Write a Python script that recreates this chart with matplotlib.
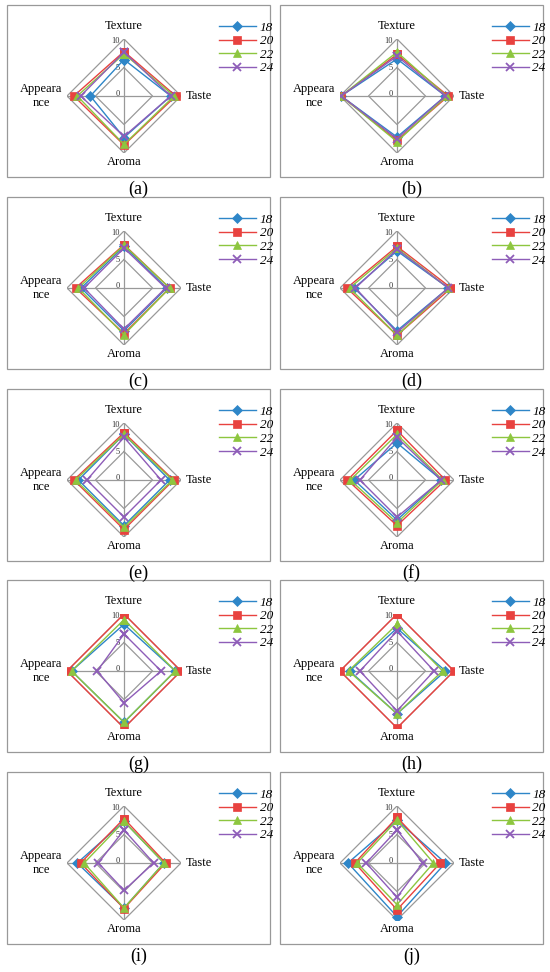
import numpy as np
import matplotlib
matplotlib.use("Agg")
import matplotlib.pyplot as plt
from matplotlib.patches import Rectangle

plt.rcParams['font.family'] = ['Liberation Serif', 'DejaVu Serif']

axes_names = ["Texture", "Taste", "Aroma", "Appeara\nnce"]
series_names = ["18", "20", "22", "24"]
colors = ["#2E86C8", "#E8423F", "#8DC63F", "#8E5DB8"]
markers = ["D", "s", "^", "x"]
panel_labels = ["(a)", "(b)", "(c)", "(d)", "(e)", "(f)", "(g)", "(h)", "(i)", "(j)"]

# values per panel: series 18,20,22,24 ; axes Texture, Taste, Aroma, Appearance
data_a = [[6.4, 8.2, 7.3, 5.9], [7.8, 9.1, 8.6, 8.8], [7.4, 8.8, 8.5, 8.2], [7.7, 8.2, 7.1, 7.6]]
data_b = [[6.5, 8.5, 7.2, 9.8], [7.3, 9.0, 7.8, 9.8], [7.7, 8.7, 8.0, 9.8], [7.0, 8.5, 7.5, 9.8]]
data_c = [[7.3, 7.5, 7.5, 7.5], [7.6, 8.0, 8.0, 8.5], [7.5, 8.0, 8.2, 8.0], [7.0, 7.3, 7.2, 7.0]]
data_d = [[6.5, 9.0, 7.5, 7.5], [7.3, 9.5, 8.3, 8.8], [7.0, 9.0, 8.3, 8.3], [6.8, 9.0, 7.8, 7.3]]
data_e = [[8.0, 8.0, 8.0, 8.0], [8.3, 8.7, 8.7, 8.8], [8.0, 8.5, 8.3, 8.5], [7.5, 6.5, 6.5, 6.5]]
data_f = [[6.5, 7.8, 7.0, 7.5], [8.7, 8.5, 8.0, 8.7], [8.0, 8.0, 7.5, 8.2], [7.5, 7.8, 6.5, 6.5]]
data_g = [[8.2, 9.0, 9.0, 9.2], [10.0, 10.0, 10.0, 10.0], [9.0, 9.0, 9.0, 9.2], [6.5, 6.5, 5.6, 4.7]]
data_h = [[7.5, 8.5, 7.5, 8.3], [10.0, 10.0, 10.0, 10.0], [8.2, 8.0, 7.5, 8.5], [7.0, 6.5, 7.0, 6.5]]
data_i = [[7.3, 7.0, 7.9, 8.2], [7.8, 7.3, 8.0, 7.6], [7.3, 7.0, 7.9, 7.0], [5.8, 5.2, 4.8, 4.5]]
data_j = [[7.5, 8.5, 9.4, 8.6], [8.0, 7.6, 8.2, 7.4], [7.5, 6.4, 7.3, 7.0], [5.8, 4.5, 6.0, 5.4]]
panels = [data_a, data_b, data_c, data_d, data_e, data_f, data_g, data_h, data_i, data_j]

W, H = 5.5, 9.72
fig = plt.figure(figsize=(W, H), dpi=100)
theta = np.deg2rad([90, 0, -90, 180])
theta_c = np.append(theta, theta[0])

col_x = [7, 280]
box_w, box_h = 263, 172
row_top = [5, 197, 389, 580, 772]
for k, vals in enumerate(panels):
    r, c = divmod(k, 2)
    x0 = col_x[c]; y0 = row_top[r]
    fig.patches.append(Rectangle((x0 / 550, 1 - (y0 + box_h) / 972), box_w / 550, box_h / 972,
                                 transform=fig.transFigure, fill=False, ec="#999999", lw=0.9))
    fig.text((x0 + box_w / 2) / 550, 1 - (y0 + box_h + 12) / 972, panel_labels[k],
             ha="center", va="center", fontsize=13)
    cx, cy = x0 + 117, y0 + 91
    R = 57
    ax = fig.add_axes([(cx - R) / 550, 1 - (cy + R) / 972, 2 * R / 550, 2 * R / 972])
    ax.set_xlim(-10, 10); ax.set_ylim(-10, 10)
    ax.axis("off")
    for lev in [5, 10]:
        ax.plot(lev * np.cos(theta_c), lev * np.sin(theta_c), color="#999999", lw=0.9, zorder=1)
    ax.plot([0, 0], [-10, 10], color="#999999", lw=0.9, zorder=1)
    ax.plot([-10, 10], [0, 0], color="#999999", lw=0.9, zorder=1)
    for lv, yy in [(0, 0.3), (5, 5.0), (10, 9.7)]:
        ax.text(-0.7, yy, str(lv), ha="right", va="center", fontsize=6, color="#333333")
    for i, s in enumerate(series_names):
        v = np.append(vals[i], vals[i][0])
        ax.plot(v * np.cos(theta_c), v * np.sin(theta_c), color=colors[i], marker=markers[i],
                ms=6 if markers[i] == "s" else 5.5, mew=1.3 if markers[i] == "x" else 0.5,
                lw=1.0, label=s, zorder=3 + i)
    ax.text(0, 11.2, axes_names[0], ha="center", va="bottom", fontsize=9)
    ax.text(10.8, 0, axes_names[1], ha="left", va="center", fontsize=9)
    ax.text(0, -10.6, axes_names[2], ha="center", va="top", fontsize=9)
    ax.text(-10.8, 0, axes_names[3], ha="right", va="center", fontsize=9, multialignment="center")
    fig.legend(*ax.get_legend_handles_labels(), loc="upper left",
               bbox_to_anchor=((x0 + 205) / 550, 1 - (y0 + 10) / 972),
               frameon=False, prop={'style': 'italic', 'size': 9.5},
               handlelength=2.8, labelspacing=0.1, handletextpad=0.3, borderpad=0)

fig.savefig("out.png", dpi=100)
